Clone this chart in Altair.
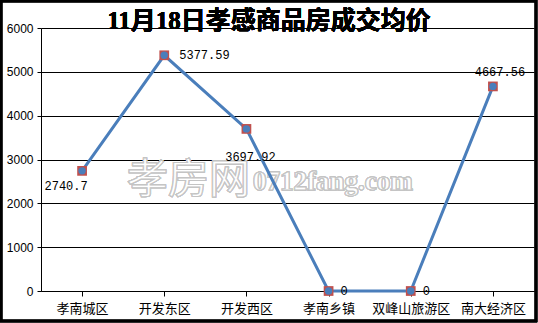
import altair as alt
import pandas as pd

categories = ["孝南城区", "开发东区", "开发西区", "孝南乡镇", "双峰山旅游区", "南大经济区"]
values = [2740.7, 5377.59, 3697.92, 0, 0, 4667.56]
labels = ["2740.7", "5377.59", "3697.92", "0", "0", "4667.56"]
y_ticks = [0, 1000, 2000, 3000, 4000, 5000, 6000]
title_text = "11月18日孝感商品房成交均价"
watermark_cn = "孝房网"
watermark_en = "0712fang.com"

df = pd.DataFrame({"cat": categories, "val": values, "lab": labels, "i": list(range(len(categories)))})

W, H = 493, 263
LINE = "#4A7EBB"
RED = "#C0504D"

x = alt.X("cat:N", sort=categories, scale=alt.Scale(paddingInner=0, paddingOuter=0),
          axis=alt.Axis(title=None, labelAngle=0, labelFont="Noto Sans CJK SC", labelFontSize=13,
                        labelColor="#000", labelPadding=6, domainColor="#000", domainWidth=1,
                        tickColor="#000", tickSize=5, bandPosition=0, grid=False))
y = alt.Y("val:Q", scale=alt.Scale(domain=[0, 6000], nice=False),
          axis=alt.Axis(title=None, values=y_ticks, format="d", labelFont="Liberation Sans", labelFontSize=12,
                        labelColor="#000", labelPadding=4, tickSize=4, tickColor="#000",
                        domainColor="#000", grid=True, gridColor="#000", gridWidth=1, gridOpacity=1))

base = alt.Chart(df)

frame = base.mark_rect(fill=None, stroke="#000", strokeWidth=2.5, clip=False).encode(
    x=alt.value(-40), x2=alt.value(495), y=alt.value(-27), y2=alt.value(293))

wm1 = base.mark_text(text=watermark_cn, font="Noto Sans CJK SC", fontSize=41,
                     fill="#ffffff", stroke="#c4c4c4", strokeWidth=1, align="left", baseline="middle").encode(
    x=alt.value(86), y=alt.value(153))
wm2 = base.mark_text(text=watermark_en, font="Liberation Serif", fontSize=27, fontWeight="bold",
                     fill="#ffffff", stroke="#c4c4c4", strokeWidth=1, align="left", baseline="middle").encode(
    x=alt.value(212), y=alt.value(154))

line = base.mark_line(color=LINE, strokeWidth=3).encode(x=x, y=y)
sq = base.mark_square(color=RED, size=95, opacity=1, clip=False).encode(x=x, y=y)
dot = base.mark_circle(color=LINE, size=55, opacity=1, clip=False).encode(x=x, y=y)

def lab(idx, **kw):
    return base.transform_filter(alt.FieldOneOfPredicate(field="i", oneOf=idx)).mark_text(
        font="Liberation Mono", fontSize=12, color="#000", **kw).encode(
        x=alt.X("cat:N", sort=categories), y=alt.Y("val:Q"), text="lab:N")

labs = [
    lab([0], align="center", dx=-16, dy=15),
    lab([1], align="left", dx=15, dy=0),
    lab([2], align="center", dx=4, dy=28),
    lab([3, 4], align="left", dx=12, dy=0),
    lab([5], align="center", dx=7, dy=-14),
]

title = base.mark_text(text=title_text, font="Liberation Serif, Noto Sans CJK SC", fontSize=25,
                       fontWeight="bold", color="#000", align="center", baseline="alphabetic").encode(
    x=alt.value(228), y=alt.value(1))

chart = alt.layer(wm1, wm2, line, sq, dot, *labs, title, frame).properties(
    width=W, height=H, autosize=alt.AutoSizeParams(type="none"),
    padding={"left": 41, "top": 28, "right": 4, "bottom": 32},
).configure_view(stroke=None).configure(background="#ffffff")

chart.save("out.html", embed_options={"renderer": "svg", "actions": False})
